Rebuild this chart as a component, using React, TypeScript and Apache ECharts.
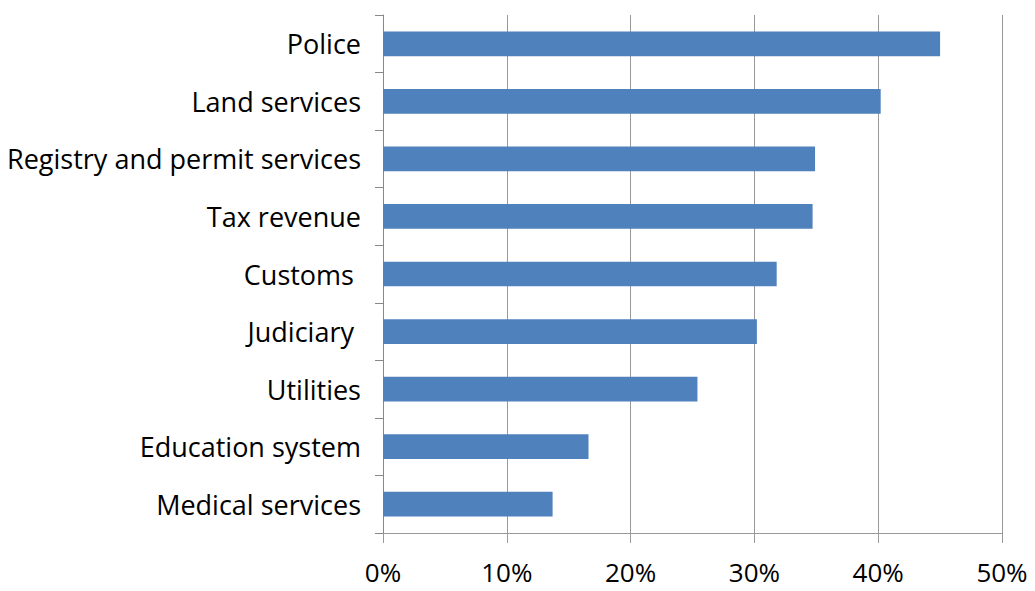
import React, { useEffect, useRef } from "react";
import * as echarts from "echarts";

const categories = [
  "Police",
  "Land services",
  "Registry and permit services",
  "Tax revenue",
  "Customs ",
  "Judiciary ",
  "Utilities",
  "Education system",
  "Medical services",
];
const values = [45.0, 40.2, 34.9, 34.7, 31.8, 30.2, 25.4, 16.6, 13.7];
const xTicks = [0, 10, 20, 30, 40, 50];

export default function App() {
  const ref = useRef<HTMLDivElement>(null);
  useEffect(() => {
    if (!ref.current) return;
    const chart = echarts.init(ref.current, null, { renderer: "svg" });
    const font = "'Open Sans', 'Liberation Sans', sans-serif";
    chart.setOption({
      animation: false,
      grid: { left: 383, right: 33, top: 15, bottom: 58 },
      xAxis: {
        type: "value",
        min: xTicks[0],
        max: xTicks[xTicks.length - 1],
        interval: 10,
        axisLine: { show: true, lineStyle: { color: "#999", width: 1 } },
        axisTick: { show: true, length: 10, inside: false, lineStyle: { color: "#999" } },
        splitLine: { show: true, lineStyle: { color: "#999", width: 1 } },
        axisLabel: {
          formatter: (v: number) => v + "%",
          color: "#000",
          fontSize: 26,
          lineHeight: 26,
          fontFamily: font,
          margin: 26,
        },
      },
      yAxis: {
        type: "category",
        inverse: true,
        data: categories,
        axisLine: { show: true, lineStyle: { color: "#888", width: 1 } },
        axisTick: { show: true, length: 8, lineStyle: { color: "#888" } },
        axisLabel: {
          color: "#000",
          fontSize: 27,
          fontFamily: font,
          margin: 22,
        },
      },
      series: [
        {
          type: "bar",
          data: values,
          barWidth: "43%",
          itemStyle: { color: "#4F81BD" },
        },
      ],
    });
    return () => chart.dispose();
  }, []);
  return (
    <div
      ref={ref}
      style={{ position: "fixed", left: 0, top: 0, width: 1035, height: 591, background: "#fff" }}
    />
  );
}
